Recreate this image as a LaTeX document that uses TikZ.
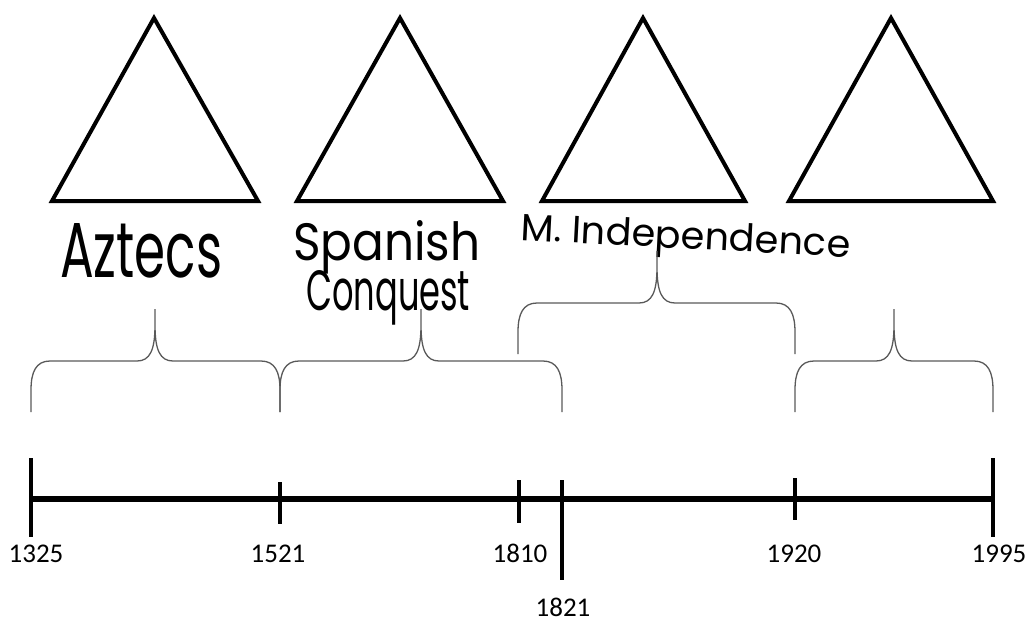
\documentclass[tikz,border=0pt]{standalone}
\usepackage{fontspec}
\setmainfont[Numbers=Lining]{Carlito}
\newfontfamily\handfont{Poppins}
\usepackage{graphicx}
\tikzset{
  tri/.style={line width=4pt, line join=miter, draw=black},
  axisline/.style={line width=5.5pt},
  tick/.style={line width=4.5pt},
  bracestyle/.style={draw=black!65, line width=1.3pt},
  yearlabel/.style={font=\fontsize{27}{30}\selectfont, inner sep=0pt, anchor=base},
  handlabel/.style={inner sep=0pt, anchor=base west},
}
\newcommand\ourbrace[4]{% left x, right x, bottom y, tip x
  \draw[bracestyle] (#1,#3) -- (#1,{#3-22})
    .. controls (#1,{#3-40}) and ({#1+5},{#3-51}) .. ({#1+19},{#3-51})
    -- ({#4-18},{#3-51})
    .. controls ({#4-5},{#3-51}) and (#4,{#3-62}) .. (#4,{#3-87})
    -- (#4,{#3-103})
    (#4,{#3-87})
    .. controls (#4,{#3-62}) and ({#4+5},{#3-51}) .. ({#4+18},{#3-51})
    -- ({#2-19},{#3-51})
    .. controls ({#2-5},{#3-51}) and (#2,{#3-40}) .. (#2,{#3-22})
    -- (#2,#3);
}
\begin{document}
\begin{tikzpicture}[x=1pt,y=-1pt]
\useasboundingbox (0,0) rectangle (1029,621);
% triangles
\draw[tri] (52,201) -- (154,18) -- (258,201) -- cycle;
\draw[tri] (297,201) -- (400,18) -- (503,201) -- cycle;
\draw[tri] (542,201) -- (643,18) -- (745,201) -- cycle;
\draw[tri] (789,201) -- (891,18) -- (993,201) -- cycle;
% handwritten labels
\node[handlabel] (aztecs) at (60,277) {\resizebox{162pt}{54pt}{\handfont Aztecs}};
\node[handlabel] (spanish) at (293,260) {\resizebox{187pt}{40pt}{\handfont Spanish}};
\node[handlabel] (conquest) at (306,310) {\resizebox{164pt}{40pt}{\handfont Conquest}};
\node[handlabel, rotate=-3] (indep) at (520,240) {\resizebox{330pt}{28pt}{\handfont M. Independence}};
% braces
\ourbrace{31}{280}{412}{155}
\ourbrace{280}{562}{412}{421}
\ourbrace{518}{795}{354}{657}
\ourbrace{795}{993}{412}{894}
% timeline
\coordinate (tl) at (31,499);
\coordinate (tr) at (993,499);
\draw[axisline] (tl) -- (tr);
\draw[tick] (31,458) -- (31,537);
\draw[tick] (280,482) -- (280,524);
\draw[tick] (519,480) -- (519,523);
\draw[tick] (562,480) -- (562,580);
\draw[tick] (795,478) -- (795,520);
\draw[tick] (993,458) -- (993,537);
\node[yearlabel] (y1325) at (36,562) {1325};
\node[yearlabel] (y1521) at (278,562) {1521};
\node[yearlabel] (y1810) at (520,562) {1810};
\node[yearlabel] (y1821) at (563,616) {1821};
\node[yearlabel] (y1920) at (794,562) {1920};
\node[yearlabel] (y1995) at (999,562) {1995};
\end{tikzpicture}
\end{document}
